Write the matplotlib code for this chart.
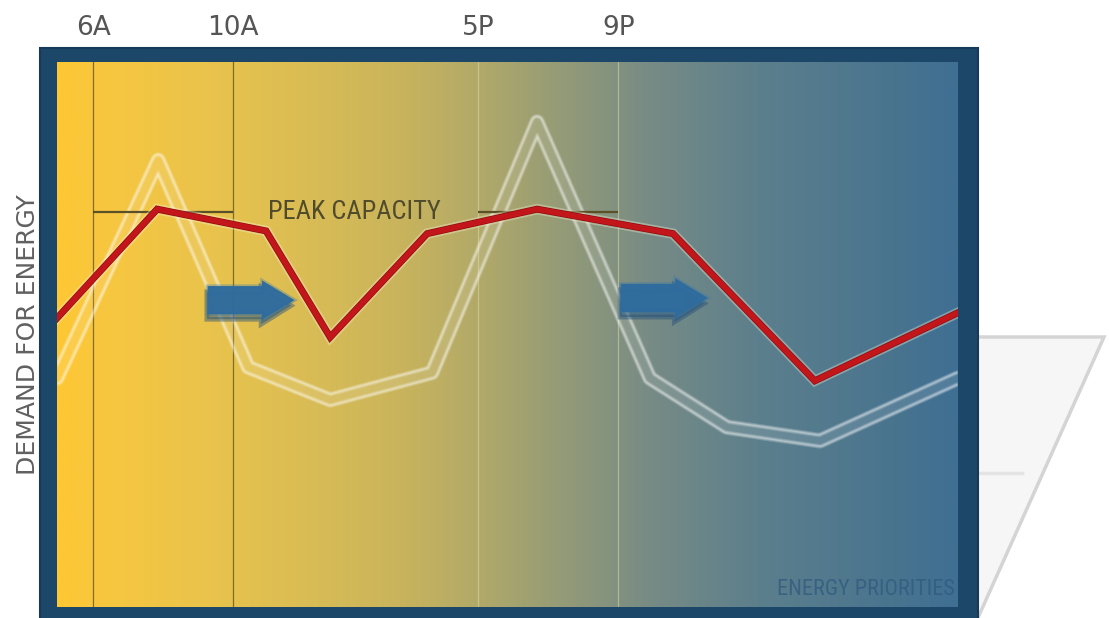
import numpy as np
import matplotlib
matplotlib.use("Agg")
import matplotlib.pyplot as plt
from matplotlib.colors import LinearSegmentedColormap
from matplotlib.patches import Rectangle, Polygon, FancyArrow
from matplotlib.lines import Line2D
import matplotlib.patheffects as pe

W, H, DPI = 1109, 618, 100

# Hours of the day (values past 24 run into the next morning)
day_span = (4.97, 30.7)
tick_hours = [6, 10, 17, 21]
tick_labels = ["6A", "10A", "5P", "9P"]

peak_windows = [(6, 10), (17, 21)]
peak_capacity = 72.5

# Demand before load shifting (pale outline) and after shifting (red)
baseline_hours = [4.97, 7.86, 10.43, 12.77, 15.68, 18.68, 21.9, 24.1, 26.76, 30.7]
baseline_demand = [42, 82, 44, 38, 43, 89, 42, 33, 30.5, 42]

shifted_hours = [4.97, 7.83, 10.94, 12.77, 15.54, 18.68, 22.56, 26.61, 30.7]
shifted_demand = [53, 73, 69, 49.5, 68.5, 73, 68.5, 41.5, 54]

# Load-shift arrows: start hour, end hour, demand level
shift_from = [9.3, 21.1]
shift_to = [11.7, 23.5]
shift_level = [56.3, 56.7]

AX_RECT = [57 / W, (H - 607) / H, 901 / W, 545 / H]
NARROW = ["Roboto Condensed", "Liberation Sans Narrow", "Roboto", "DejaVu Sans"]


def px(x, y):
    """Figure pixel position (origin top-left) to figure fraction."""
    return (x / W, 1 - y / H)


def line_mask(xs, ys, lw):
    """Rasterise a polyline on a blank twin figure and return its coverage."""
    f = plt.figure(figsize=(W / DPI, H / DPI), dpi=DPI)
    a = f.add_axes(AX_RECT)
    a.set_xlim(*day_span)
    a.set_ylim(0, 100)
    a.axis("off")
    a.plot(xs, ys, color="black", lw=lw, solid_joinstyle="round",
           solid_capstyle="round")
    f.canvas.draw()
    buf = np.asarray(f.canvas.buffer_rgba())[..., 0].astype(float)
    bb = a.get_window_extent()
    x0, x1 = int(round(bb.x0)), int(round(bb.x1))
    y0, y1 = int(round(bb.y0)), int(round(bb.y1))
    hh = buf.shape[0]
    plt.close(f)
    return 1 - buf[hh - y1:hh - y0, x0:x1] / 255.0


def soften(img, r):
    k = np.ones(2 * r + 1) / (2 * r + 1)
    img = np.apply_along_axis(lambda v: np.convolve(v, k, mode="same"), 0, img)
    img = np.apply_along_axis(lambda v: np.convolve(v, k, mode="same"), 1, img)
    return img


fig = plt.figure(figsize=(W / DPI, H / DPI), dpi=DPI)
fig.patch.set_facecolor("white")

# Pale slanted card peeking out behind the panel
card = Polygon([px(955, 337), px(1104, 337), px(950, 680), px(945, 680)],
               closed=True, transform=fig.transFigure, facecolor="#f6f6f6",
               edgecolor="#d4d4d4", lw=2.5, zorder=-3)
fig.add_artist(card)
fig.add_artist(Line2D([px(975, 473)[0], px(1022, 473)[0]],
                      [px(975, 473)[1], px(1022, 473)[1]],
                      transform=fig.transFigure, color="#e4e4e4", lw=2.5,
                      zorder=-2))

# Dark frame around the panel
x0, y0 = px(40, 660)
x1, y1 = px(978, 48)
fig.add_artist(Rectangle((x0, y0), x1 - x0, y1 - y0, transform=fig.transFigure,
                         facecolor="#1d4768", edgecolor="#163a58", lw=1.5,
                         zorder=-1))

ax = fig.add_axes(AX_RECT)

# Warm-to-cool background across the day
grad = LinearSegmentedColormap.from_list("day", [
    (0.00, "#fec733"), (0.04, "#f9c73e"), (0.20, "#e5c24f"),
    (0.38, "#c9b45c"), (0.47, "#b1a969"), (0.56, "#949b77"),
    (0.66, "#778b85"), (0.78, "#5c7f8c"), (0.93, "#49748f"),
    (1.00, "#3f6f93")])
ax.imshow(np.linspace(0, 1, 512)[None, :], cmap=grad, aspect="auto",
          extent=(*day_span, 0, 100), origin="lower", zorder=0,
          interpolation="bilinear")

# Peak-window guides
for (h0, h1), dark in zip(peak_windows, [True, False]):
    c, al = ("#6e5e26", 0.85) if dark else ("#ddd6a2", 0.55)
    for h in (h0, h1):
        ax.axvline(h, color=c, lw=0.9, alpha=al, zorder=1)
    ax.hlines(peak_capacity, h0, h1, color="#5b5128", lw=1.6, zorder=4)

ax.text(13.45, peak_capacity, "PEAK CAPACITY", ha="center", va="center",
        fontsize=19, color="#4f4b2c", family=NARROW, zorder=4)

# Original demand drawn as a hollow, embossed outline
outer = line_mask(baseline_hours, baseline_demand, 10.0)
inner = line_mask(baseline_hours, baseline_demand, 6.2)
ring = soften(np.clip(0.6 * outer - 0.5 * inner, 0, 1), 1)
rgba = np.ones(ring.shape + (4,))
rgba[..., 3] = ring
ax.imshow(rgba, extent=(*day_span, 0, 100), origin="upper", aspect="auto",
          interpolation="bilinear", zorder=3)

# Load-shift arrows
for h0, h1, lvl in zip(shift_from, shift_to, shift_level):
    shadow = FancyArrow(h0 - 0.05, lvl - 1.0, h1 - h0, 0, width=5.0,
                        head_width=6.8, head_length=0.85,
                        length_includes_head=True, color="#24507a",
                        alpha=0.45, lw=3.5, zorder=5)
    ax.add_patch(shadow)
    arrow = FancyArrow(h0, lvl, h1 - h0, 0, width=4.8, head_width=6.6,
                       head_length=0.85, length_includes_head=True,
                       facecolor="#2f6c9e", edgecolor="#2f6c9e", lw=1.5,
                       alpha=0.95, zorder=5,
                       path_effects=[pe.Stroke(linewidth=4, foreground="#3a78a8",
                                               alpha=0.35), pe.Normal()])
    ax.add_patch(arrow)

# Demand after shifting
ax.plot(shifted_hours, shifted_demand, color="#c2161b", lw=4.0,
        solid_joinstyle="miter", zorder=6,
        path_effects=[pe.Stroke(linewidth=7.5, foreground="#fbf6d8", alpha=0.35),
                      pe.Stroke(linewidth=5.0, foreground="#8e0c10"),
                      pe.Normal()])

ax.text(0.997, 0.012, "ENERGY PRIORITIES", transform=ax.transAxes,
        ha="right", va="bottom", fontsize=16, color="#2f5a7e", alpha=0.75,
        family=NARROW, zorder=4)

ax.set_xlim(*day_span)
ax.set_ylim(0, 100)
ax.set_xticks(tick_hours, tick_labels)
ax.xaxis.tick_top()
ax.tick_params(axis="x", length=0, pad=15, labelsize=19, labelcolor="#555555")
ax.set_yticks([])
for s in ax.spines.values():
    s.set_visible(False)
ax.set_ylabel("DEMAND FOR ENERGY", fontsize=18, color="#606060",
              labelpad=12)

fig.savefig("out.png", dpi=DPI, facecolor="white")
